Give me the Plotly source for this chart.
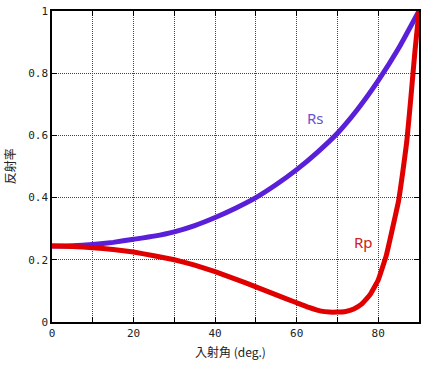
import plotly.graph_objects as go

angle_rs = [0, 5, 10, 15, 20, 25, 30, 35, 40, 45, 50, 55, 60, 65, 70, 75, 80, 85, 90]
rs_vals = [0.244, 0.245, 0.249, 0.256, 0.266, 0.276, 0.290, 0.310, 0.336, 0.366, 0.400, 0.442,
           0.490, 0.545, 0.607, 0.685, 0.776, 0.880, 1.0]

angle_rp = [0, 5, 10, 15, 20, 25, 30, 35, 40, 45, 50, 55, 60, 63, 66, 68, 70, 72, 74, 76, 78,
            80, 82, 84, 85, 86, 87, 88, 89, 90]
rp_vals = [0.244, 0.243, 0.239, 0.233, 0.225, 0.213, 0.200, 0.183, 0.162, 0.138, 0.113, 0.087,
           0.062, 0.047, 0.035, 0.032, 0.032, 0.034, 0.042, 0.058, 0.088, 0.135, 0.215, 0.33,
           0.39, 0.48, 0.58, 0.72, 0.87, 1.0]

x_ticks = [0, 20, 40, 60, 80]
y_ticks = [0, 0.2, 0.4, 0.6, 0.8, 1]
y_tick_text = ["0", "0.2", "0.4", "0.6", "0.8", "1"]

RS_COLOR = "#5a1fd8"
RP_COLOR = "#e00000"

fig = go.Figure()
fig.add_trace(go.Scatter(x=angle_rs, y=rs_vals, mode="lines",
                         line=dict(color=RS_COLOR, width=5, shape="spline", smoothing=0.4),
                         showlegend=False))
fig.add_trace(go.Scatter(x=angle_rp, y=rp_vals, mode="lines",
                         line=dict(color=RP_COLOR, width=5, shape="spline", smoothing=0.3),
                         showlegend=False))

fig.add_annotation(x=64.7, y=0.657, text="Rs", showarrow=False,
                   font=dict(color="#6a4fd0", size=15, family="Noto Sans"))
fig.add_annotation(x=76.5, y=0.257, text="Rp", showarrow=False,
                   font=dict(color="#d02020", size=15, family="Noto Sans"))

fig.add_annotation(xref="paper", yref="paper", x=0.487, y=-0.095, yanchor="middle",
                   text="入射角 (deg.)", showarrow=False,
                   font=dict(family="Noto Sans CJK JP", size=12, color="#222"))
fig.add_annotation(xref="paper", yref="paper", x=-0.115, y=0.5, xanchor="center",
                   text="反射率", showarrow=False, textangle=-90,
                   font=dict(family="Noto Sans CJK JP", size=12, color="#222"))

grid = dict(showgrid=True, gridcolor="#444444", griddash="1px,1px", gridwidth=1)
tickfont = dict(family="DejaVu Sans Mono", size=11, color="#222")
fig.update_xaxes(range=[0, 90], tickvals=x_ticks, ticks="inside", ticklen=5,
                 tickcolor="black", mirror="ticks", showline=True, linecolor="black",
                 linewidth=1.5, zeroline=False, automargin=False,
                 minor=dict(tickvals=[10, 30, 50, 70], showgrid=True, gridcolor="#444444",
                            griddash="1px,1px", ticks="inside", ticklen=5, tickcolor="black"),
                 tickfont=tickfont, **grid)
fig.update_yaxes(range=[0, 1], tickvals=y_ticks, ticktext=y_tick_text, ticks="inside", ticklen=5,
                 tickcolor="black", mirror="ticks", showline=True, linecolor="black",
                 linewidth=1.5, zeroline=False, automargin=False,
                 tickfont=tickfont, **grid)

fig.update_layout(width=425, height=365, margin=dict(l=52, r=6, t=11, b=43),
                  plot_bgcolor="white", paper_bgcolor="white")

fig.write_html("out.html", config={"displayModeBar": False},
               post_script="document.body.style.margin='0';")
